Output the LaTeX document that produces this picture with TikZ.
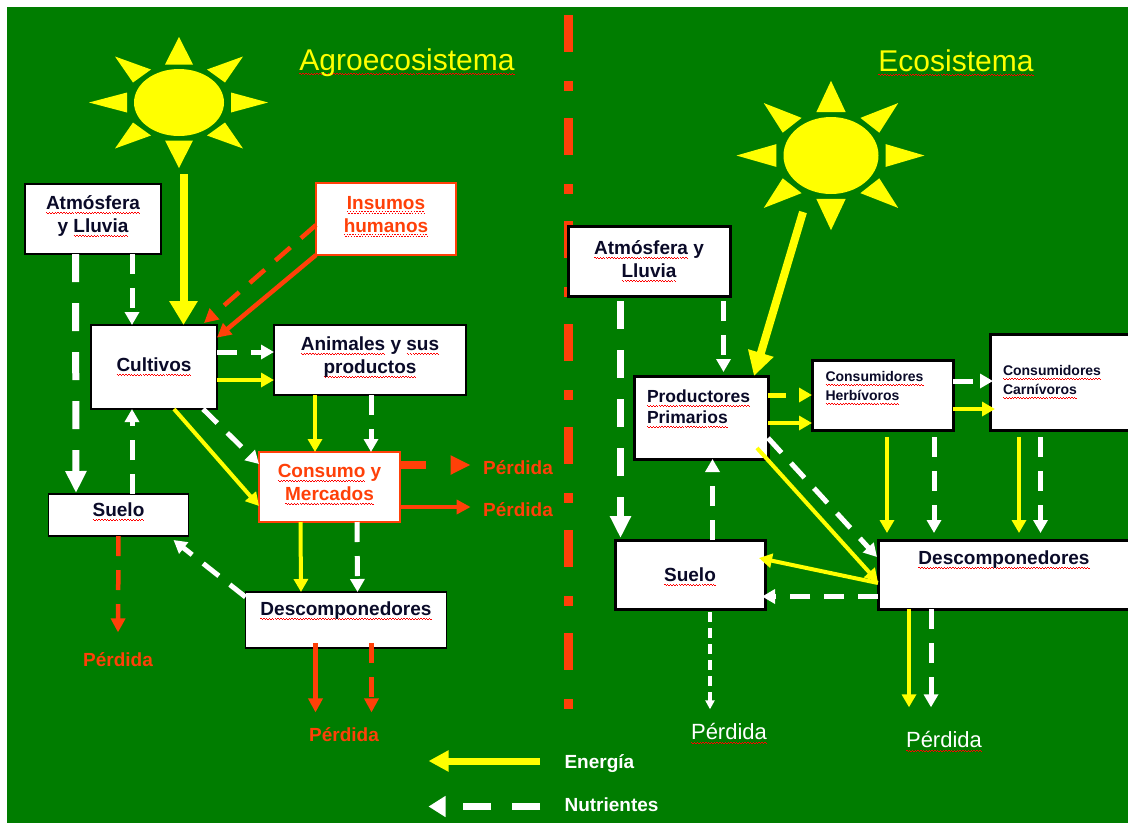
\documentclass[tikz,border=0pt]{standalone}
\usepackage{fontspec}
\setmainfont{Liberation Sans}
\usetikzlibrary{positioning, arrows.meta, calc, shapes.geometric}

\definecolor{agrogreen}{RGB}{0,125,0}
\definecolor{lossred}{RGB}{255,64,8}
\definecolor{inkblue}{RGB}{10,10,40}
\definecolor{sunyellow}{RGB}{255,255,0}

\newsavebox{\sqbox}
\newcommand{\sq}[1]{\leavevmode\sbox{\sqbox}{#1}\rlap{\hbox to \wd\sqbox{\color{red}\xleaders\hbox{\rule[-3pt]{1.4pt}{.55pt}\rule[-4.1pt]{1.4pt}{.55pt}}\hfill}}\usebox{\sqbox}}

\begin{document}
\begin{tikzpicture}[
    x=1pt, y=-1pt,
    box/.style={
        rectangle,
        draw=black,
        fill=white,
        line width=1.5pt,
        inner sep=0pt,
        outer sep=0pt,
        align=center,
        text=inkblue,
        font=\fontsize{19}{23}\selectfont\bfseries
    },
    heavybox/.style={box, line width=3pt},
    redbox/.style={box, draw=lossred, text=lossred},
    smallbox/.style={heavybox, align=left, font=\fontsize{14}{19}\selectfont\bfseries},
    energy/.style={draw=sunyellow, line width=4pt, -{Triangle[length=13pt, width=14pt]}},
    nutrient/.style={draw=white, line width=5pt, dash pattern=on 20pt off 14pt, -{Triangle[length=13pt, width=14pt]}},
    bigenergy/.style={draw=sunyellow, line width=8pt, -{Triangle[length=24pt, width=27pt]}},
    bignutrient/.style={draw=white, line width=7pt, dash pattern=on 28pt off 21pt, -{Triangle[length=22pt, width=20pt]}},
    loss/.style={draw=lossred, line width=4.5pt, -{Triangle[length=14pt, width=14pt]}},
    lossdash/.style={draw=lossred, line width=4.5pt, dash pattern=on 20pt off 14pt, -{Triangle[length=14pt, width=14pt]}},
    sunball/.style={ellipse, fill=sunyellow, inner sep=0pt, outer sep=0pt},
    ray/.style={fill=sunyellow},
    title/.style={text=sunyellow, font=\fontsize{30}{36}\selectfont},
    losslabel/.style={text=lossred, font=\fontsize{19}{23}\selectfont\bfseries},
    lossplain/.style={text=white, font=\fontsize{22}{26}\selectfont},
    legendtext/.style={text=white, font=\fontsize{19}{23}\selectfont\bfseries}
]

% Background
\clip (0,0) rectangle (1128,823);
\fill[white] (0,0) rectangle (1128,823);
\fill[agrogreen] (7,7) rectangle (1128,823);

% Divider
\draw[lossred, line width=9pt, dash pattern=on 37pt off 29pt on 9.5pt off 27.5pt] (568,15) -- (568,712);

% Titles
\node[title] (titleA) at (407,63) {\sq{Agroecosistema}};
\node[title] (titleB) at (956,63) {\sq{Ecosistema}};

% === Left sun ===
\node[sunball, minimum width=90pt, minimum height=67pt] (sunA) at (179,102.5) {};
\begin{scope}[shift={(179,102.5)}]
    \foreach \ax/\ay/\bx/\by/\cx/\cy in {0/-65.5/-14/-38/14/-38, 0/65.5/-14/38/14/38, -90/0/-52/-10/-52/10, 89/0/52/-10/52/10,
        -64/-46/-28/-33/-46/-20, 64/-46/28/-33/46/-20, -64/46/-46/20/-28/33, 64/46/46/20/28/33}
        \fill[ray] (\ax,\ay) -- (\bx,\by) -- (\cx,\cy) -- cycle;
\end{scope}

% === Right sun ===
\node[sunball, minimum width=95pt, minimum height=77pt] (sunB) at (831,155.5) {};
\begin{scope}[shift={(831,155.5)}, xscale=1.05, yscale=1.14]
    \foreach \ax/\ay/\bx/\by/\cx/\cy in {0/-65.5/-14/-38/14/-38, 0/65.5/-14/38/14/38, -90/0/-52/-10/-52/10, 89/0/52/-10/52/10,
        -64/-46/-28/-33/-46/-20, 64/-46/28/-33/46/-20, -64/46/-46/20/-28/33, 64/46/46/20/28/33}
        \fill[ray] (\ax,\ay) -- (\bx,\by) -- (\cx,\cy) -- cycle;
\end{scope}

% === Left boxes ===
\node[box, minimum width=136pt, minimum height=70pt] (atmA) at (93,219) {\sq{Atmósfera}\\y \sq{Lluvia}\\[-13pt]\mbox{}};
\node[redbox, minimum width=140pt, minimum height=72pt] (insumos) at (386,219) {\sq{Insumos}\\\sq{humanos}\\[-13pt]\mbox{}};
\node[box, minimum width=126pt, minimum height=84pt] (cultivos) at (154,367) {\sq{Cultivos}};
\node[box, minimum width=192pt, minimum height=70pt] (animales) at (370,360) {\sq{Animales} y \sq{sus}\\\sq{productos}\\[-13pt]\mbox{}};
\node[redbox, minimum width=141pt, minimum height=70pt] (consumo) at (329.5,487) {\sq{Consumo} y\\\sq{Mercados}\\[-13pt]\mbox{}};
\node[box, minimum width=140pt, minimum height=42pt] (sueloA) at (118.5,515) {\sq{Suelo}\\[-13pt]\mbox{}};
\node[box, minimum width=201pt, minimum height=56pt] (descA) at (346,620) {\sq{Descomponedores}\\\mbox{}};

% === Right boxes ===
\node[heavybox, minimum width=162pt, minimum height=70pt] (atmB) at (649,261) {\sq{Atmósfera} y\\\sq{Lluvia}\\[-19pt]\mbox{}};
\node[heavybox, align=left, text width=108pt, font=\fontsize{17.5}{21}\selectfont\bfseries, minimum width=134pt, minimum height=83pt] (prod) at (701,417.5) {\sq{Productores}\\\sq{Primarios}\\\mbox{}};
\node[smallbox, text width=114pt, minimum width=141pt, minimum height=70pt] (herb) at (882.5,395) {\sq{Consumidores}\\\sq{Herbívoros}\\\mbox{}};
\node[smallbox, text width=124pt, minimum width=150pt, minimum height=96pt] (carn) at (1065,382) {\sq{Consumidores}\\\sq{Carnívoros}};
\node[heavybox, minimum width=150pt, minimum height=69pt] (sueloB) at (690,574.5) {\mbox{}\\[-5pt]\sq{Suelo}};
\node[heavybox, text width=262pt, minimum width=262pt, minimum height=69pt] (descB) at (1009,574.5) {\hspace*{-10pt}\sq{Descomponedores}\\[10pt]\mbox{}};

% === Loss labels ===
\node[losslabel] (lossA) at (518,468) {Pérdida};
\node[losslabel] (lossB) at (518,510) {Pérdida};
\node[losslabel] (lossC) at (118,660) {Pérdida};
\node[losslabel] (lossD) at (344,735) {Pérdida};
\node[lossplain] (lossE) at (729,733) {\sq{Pérdida}};
\node[lossplain] (lossF) at (944,741) {\sq{Pérdida}};

% === Left arrows ===
\coordinate (sunAend) at (183.5,174);
\draw[bigenergy] (sunAend) -- (sunAend |- cultivos.north);
\draw[bignutrient] ($(atmA.south west)+(50.5,0)$) -- ($(sueloA.north west)+(27.5,-1)$);
\draw[nutrient] ($(atmA.south west)+(107,0)$) -- ($(cultivos.north west)+(41,0)$);
\draw[loss] (insumos.south west) -- (cultivos.25);
\draw[lossdash] ($(insumos.south west)+(0,-30)$) -- ($(cultivos.north west)+(113,-2)$);
\draw[nutrient] ($(cultivos.north east)+(0,27)$) -- ($(animales.north west)+(0,27)$);
\draw[energy] ($(cultivos.north east)+(0,55)$) -- ($(animales.north west)+(0,55)$);
\draw[energy] ($(animales.south west)+(41,0)$) -- ($(consumo.north west)+(56,0)$);
\draw[nutrient] ($(animales.south west)+(97,0)$) -- ($(consumo.north west)+(112,0)$);
\draw[energy] ($(cultivos.south west)+(83,0)$) -- ($(consumo.north west)+(0,54)$);
\draw[nutrient] ($(cultivos.south west)+(112,0)$) -- ($(consumo.north west)+(0,12)$);
\draw[nutrient] ($(sueloA.north west)+(83.5,0)$) -- ($(cultivos.south west)+(41,0)$);
\draw[lossdash] (sueloA.south) -- ($(lossC.north)+(0,-17)$);
\draw[nutrient] ($(descA.north west)+(0,5)$) -- ($(sueloA.south east)+(-15,4)$);
\draw[energy] ($(consumo.south west)+(41.5,0)$) -- ($(descA.north west)+(55.5,0)$);
\draw[nutrient] ($(consumo.south west)+(98,0)$) -- ($(descA.north west)+(112,0)$);
\draw[lossdash, line width=8pt, dash pattern=on 26pt off 30pt, -{Triangle[length=20pt, width=18pt]}] ($(consumo.north east)+(0,13)$) -- ($(lossA.west)+(-9,-3)$);
\draw[loss] ($(consumo.north east)+(0,55)$) -- ($(lossB.west)+(-9,-3)$);
\coordinate (descAred) at ($(descA.south west)+(70,-5)$);
\coordinate (descAdash) at ($(descA.south west)+(126,-5)$);
\draw[loss, shorten >=12pt] (descAred) -- (descAred |- lossD.north);
\draw[lossdash, shorten >=12pt] (descAdash) -- (descAdash |- lossD.north);

% === Right arrows ===
\coordinate (sunBend) at (803,212);
\draw[bigenergy, -{Triangle[length=24pt, width=25pt]}] (sunBend) -- ($(prod.north east)+(-14,0)$);
\draw[bignutrient] ($(atmB.south west)+(52.5,5)$) -- ($(sueloB.north west)+(5.5,-2)$);
\draw[nutrient] ($(atmB.south west)+(155.5,5)$) -- ($(prod.north west)+(89.5,-4)$);
\draw[energy, line width=5pt, dash pattern=on 18pt off 14pt] ($(prod.north east)+(0,19)$) -- ($(herb.north west)+(0,35)$);
\draw[energy] ($(prod.north east)+(0,47)$) -- ($(herb.north west)+(0,63)$);
\draw[nutrient] ($(herb.north east)+(0,21)$) -- ($(carn.north west)+(3,47)$);
\draw[energy] ($(herb.north east)+(0,49)$) -- ($(carn.north west)+(5,75)$);
\draw[energy] ($(herb.south west)+(75,7)$) -- ($(descB.north west)+(9,-7)$);
\draw[nutrient] ($(herb.south west)+(122,7)$) -- ($(descB.north west)+(56,-7)$);
\draw[energy] ($(carn.south west)+(29,7)$) -- ($(descB.north west)+(141,-7)$);
\draw[nutrient] ($(carn.south west)+(50.5,7)$) -- ($(descB.north west)+(162.5,-7)$);
\draw[nutrient] (prod.-17) -- ($(descB.north west)+(-1,17)$);
\draw[energy] ($(prod.south east)+(-11,-11)$) -- ($(descB.north west)+(0,42)$);
\draw[energy] ($(descB.north west)+(0,43)$) -- ($(sueloB.north east)+(-6,18)$);
\draw[nutrient] ($(descB.north west)+(0,56.5)$) -- ($(sueloB.north east)+(-3,56.5)$);
\draw[nutrient] ($(sueloB.north west)+(97.5,0)$) -- ($(prod.south west)+(78.5,0)$);
\coordinate (sueloBloss) at ($(sueloB.south west)+(95,3)$);
\coordinate (descByellow) at ($(descB.south west)+(31,0)$);
\coordinate (descBwhite) at ($(descB.south west)+(53,0)$);
\draw[nutrient, line width=3.5pt, dash pattern=on 10pt off 6pt, -{Triangle[length=9pt, width=9pt]}, shorten >=10pt] (sueloBloss) -- (sueloBloss |- lossE.north);
\draw[energy, shorten >=20pt] (descByellow) -- (descByellow |- lossF.north);
\draw[nutrient, shorten >=20pt] (descBwhite) -- (descBwhite |- lossF.north);

% === Legend ===
\node[legendtext, anchor=west] (energia) at (561,764) {Energía};
\node[legendtext, anchor=west] (nutrientes) at (561,805) {Nutrientes};
\coordinate (energiaTip) at (428.5,761);
\coordinate (nutrientesTip) at (428.5,806.5);
\draw[bigenergy, line width=7pt, -{Triangle[length=20pt, width=20pt]}] ($(energia.west)+(-21,-3)$) -- (energiaTip);
\draw[bignutrient, -{Triangle[length=17pt, width=20pt]}] ($(nutrientes.west)+(-21,1.5)$) -- (nutrientesTip);

\end{tikzpicture}
\end{document}
